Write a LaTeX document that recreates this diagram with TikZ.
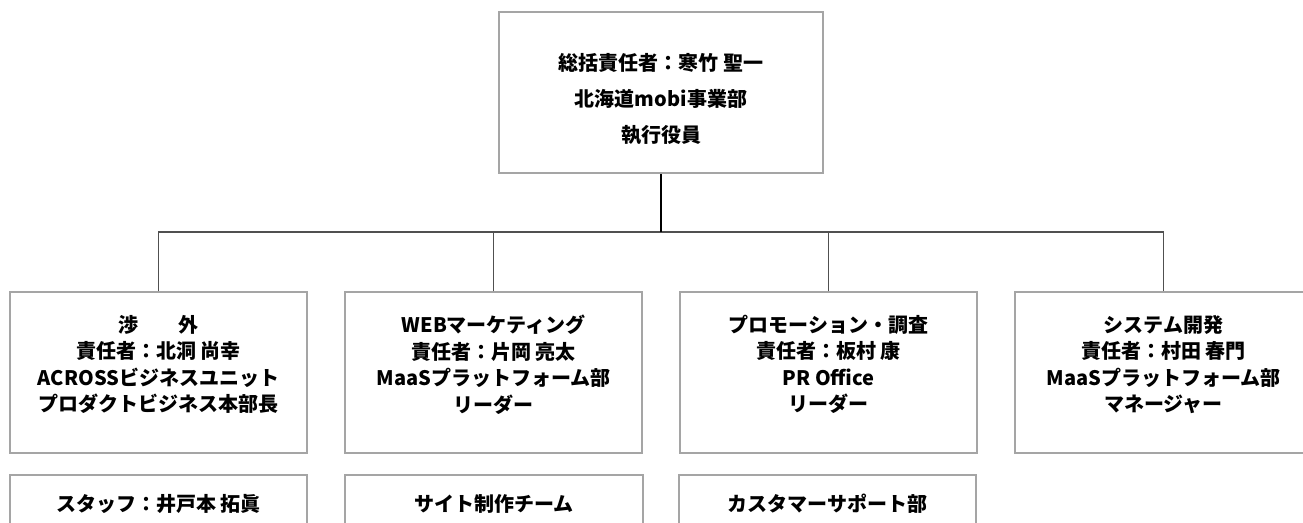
\documentclass[tikz,border=0pt]{standalone}
\usepackage{fontspec}
\setmainfont{Noto Sans CJK JP}
\definecolor{boxgray}{HTML}{A5A5A5}
\definecolor{conngray}{HTML}{505050}
\begin{document}
\begin{tikzpicture}[x=1pt,y=-1pt,
  box/.style={draw=boxgray,line width=1.5pt,minimum width=297pt,minimum height=161pt,inner sep=0pt},
  lowbox/.style={draw=boxgray,line width=1.5pt,minimum width=297pt,minimum height=100pt,inner sep=0pt},
  txt/.style={align=center,font=\bfseries\fontsize{20}{26.5}\selectfont,inner sep=0pt},
  toptxt/.style={align=center,font=\bfseries\fontsize{20}{36}\selectfont,inner sep=0pt},
  conn/.style={draw=conngray,line width=1.5pt},
  trunk/.style={draw=black,line width=2pt}]
\useasboundingbox (0,0) rectangle (1303,522);
\clip (0,0) rectangle (1303,522);
% top
\node[box,minimum width=324pt] (top) at (661,92.5) {};
\node[toptxt] (topt) at (661,99) {総括責任者：寒竹 聖一\\北海道mobi事業部\\執行役員};
% second level
\node[box] (b1) at (158.5,372.5) {};
\node[box] (b2) at (493.5,372.5) {};
\node[box] (b3) at (828.5,372.5) {};
\node[box] (b4) at (1163.5,372.5) {};
\node[txt] (b1t) at (158.5,364.5) {渉　　外\\責任者：北洞 尚幸\\ACROSSビジネスユニット\\プロダクトビジネス本部長};
\node[txt] (b2t) at (493.5,364.5) {WEBマーケティング\\責任者：片岡 亮太\\MaaSプラットフォーム部\\リーダー};
\node[txt] (b3t) at (828.5,364.5) {プロモーション・調査\\責任者：板村 康\\PR Office\\リーダー};
\node[txt] (b4t) at (1163.5,364.5) {システム開発\\責任者：村田 春門\\MaaSプラットフォーム部\\マネージャー};
% third level
\node[lowbox] (s1) at (158.5,525) {};
\node[lowbox,minimum width=298pt] (s2) at (494,525) {};
\node[lowbox] (s3) at (827.5,525) {};
\node[txt] (s1t) at (158.5,504) {スタッフ：井戸本 拓眞};
\node[txt] (s2t) at (494,504) {サイト制作チーム};
\node[txt] (s3t) at (827.5,504) {カスタマーサポート部};
% connectors
\coordinate (bus) at (661,232);
\draw[conn] (b1.north) |- (bus) -| (b4.north);
\draw[conn] (b2.north) -- (b2.north |- bus);
\draw[conn] (b3.north) -- (b3.north |- bus);
\draw[trunk] (top.south) -- (bus);
\end{tikzpicture}
\end{document}
